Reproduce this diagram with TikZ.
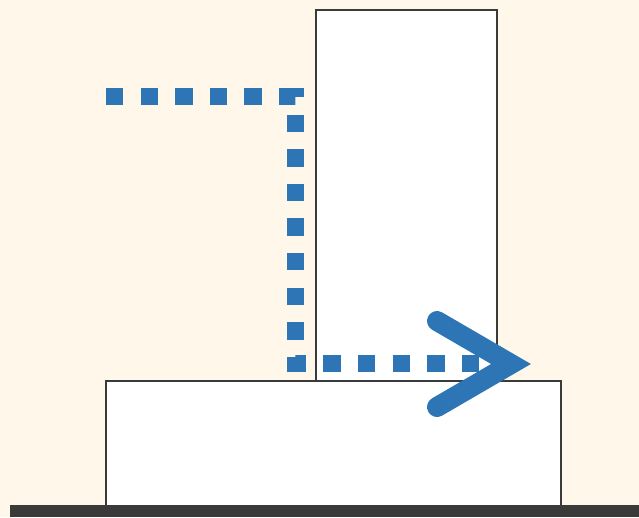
\documentclass[tikz,border=0pt]{standalone}
\usepackage{xcolor}
\definecolor{paper}{HTML}{FFF8EA}
\definecolor{flowblue}{HTML}{2E75B6}
\definecolor{edge}{HTML}{3A3A3A}

\begin{document}
\begin{tikzpicture}[x=1pt,y=-1pt,
		block/.style={draw=edge, fill=white, line width=2.2pt},
		flow/.style={draw=flowblue, line width=17pt, dash pattern=on 17.3pt off 17.3pt},
		chevron/.style={draw=flowblue, line width=20pt, line cap=round, line join=miter}]
	\fill[paper] (0,0) rectangle (639,517);
	\useasboundingbox (0,0) rectangle (639,517);
	% ground and the two blocks
	\fill[edge] (10,505) rectangle (639,517);
	\draw[block] (106,381) rectangle (561,506);
	\draw[block] (316,10) rectangle (497,381);
	% path around the corner
	\coordinate (start) at (106,96);
	\coordinate (bend1) at (295,96);
	\coordinate (bend2) at (295,363);
	\coordinate (stop) at (498,363);
	\draw[flow] (start) -- (bend1) -- (bend2) -- (stop);
	\coordinate (tip) at (511,364);
	\draw[chevron] (437,321) -- (tip) -- (437,407);
\end{tikzpicture}
\end{document}
